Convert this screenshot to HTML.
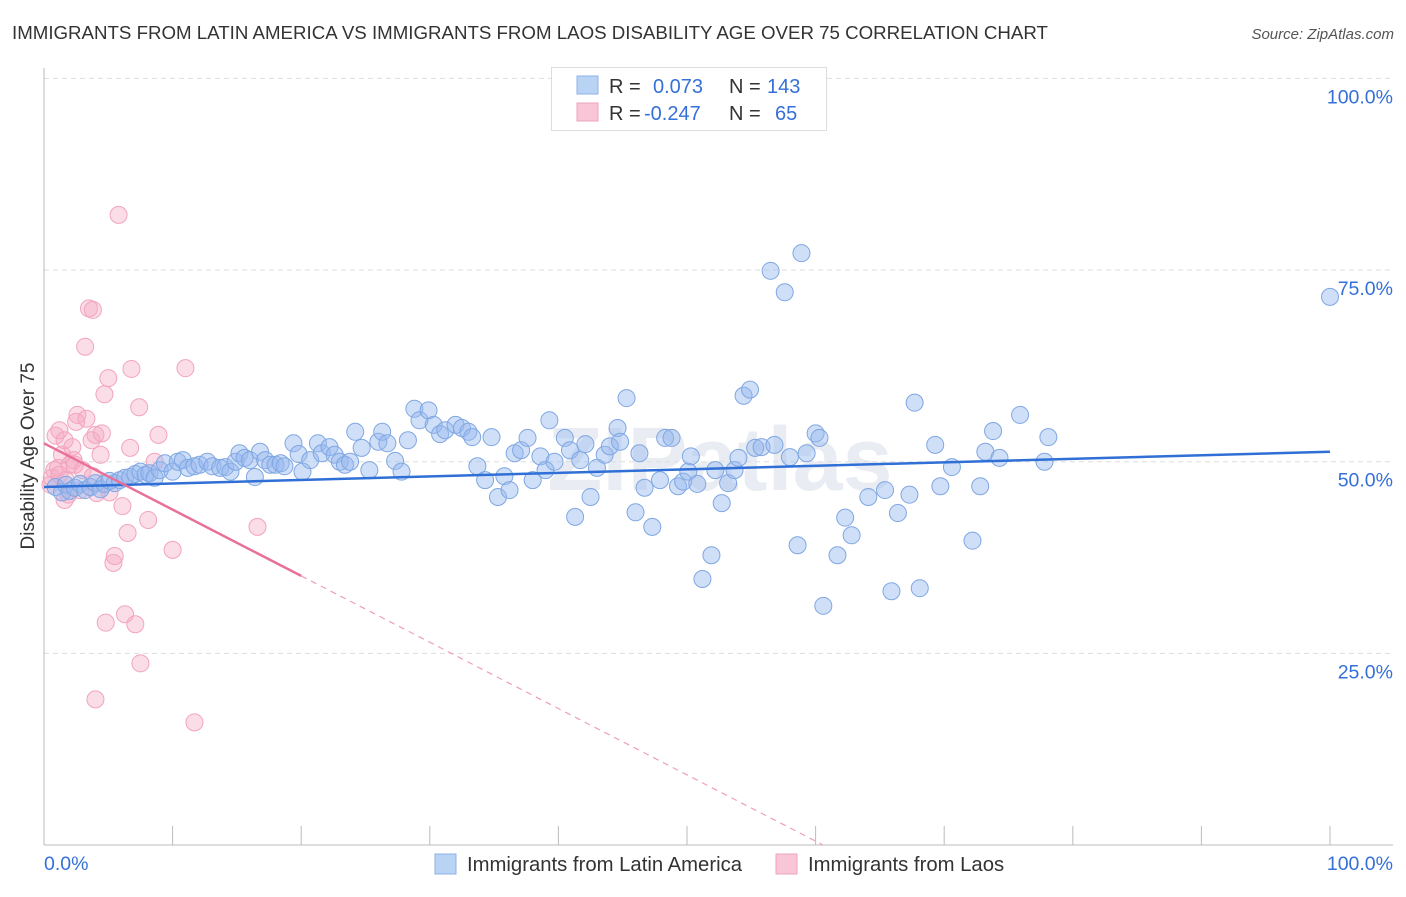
<!DOCTYPE html>
<html><head><meta charset="utf-8"><style>
body{margin:0;background:#fff;font-family:"Liberation Sans",sans-serif;}
svg text{font-family:"Liberation Sans",sans-serif;}
</style></head><body>
<svg id="chart" width="1406" height="892" viewBox="0 0 1406 892">
<text x="12" y="39" font-size="18.7" fill="#333">IMMIGRANTS FROM LATIN AMERICA VS IMMIGRANTS FROM LAOS DISABILITY AGE OVER 75 CORRELATION CHART</text>
<text x="1394" y="39" font-size="15" fill="#555" font-style="italic" text-anchor="end">Source: ZipAtlas.com</text>
<text x="720" y="490" font-size="90" fill="#e9edf3" text-anchor="middle" font-weight="bold">ZIPatlas</text>
<g id="grid"></g>
<g id="axes"></g>
<g id="pts"></g>
<g id="trends"></g>
<text transform="translate(34,456) rotate(-90)" font-size="19" fill="#333" text-anchor="middle">Disability Age Over 75</text>
<g>
<rect x="551.5" y="67.5" width="275" height="63" fill="#fff" stroke="#ddd"/>
<rect x="577" y="76" width="21" height="18" fill="#b9d3f5" stroke="#8fb2e8"/>
<rect x="577" y="103" width="21" height="18" fill="#f8c6d6" stroke="#f0a3bd"/>
<text x="609" y="93" font-size="20" fill="#333">R =</text>
<text x="653" y="93" font-size="20" fill="#3570d8">0.073</text>
<text x="729" y="93" font-size="20" fill="#333">N =</text>
<text x="767" y="93" font-size="20" fill="#3570d8">143</text>
<text x="609" y="120" font-size="20" fill="#333">R =</text>
<text x="644" y="120" font-size="20" fill="#3570d8">-0.247</text>
<text x="729" y="120" font-size="20" fill="#333">N =</text>
<text x="775" y="120" font-size="20" fill="#3570d8">65</text>
</g>
<g>
<rect x="435" y="854" width="21" height="20" fill="#b9d3f5" stroke="#8fb2e8"/>
<text x="467" y="871" font-size="20.3" fill="#333">Immigrants from Latin America</text>
<rect x="776" y="854" width="21" height="20" fill="#f8c6d6" stroke="#f0a3bd"/>
<text x="808" y="871" font-size="20.3" fill="#333">Immigrants from Laos</text>
</g>
</svg>
<script>
const blueX=[0.9,1.4,1.7,2.0,2.4,2.8,3.2,3.6,4.0,4.4,4.7,5.1,5.5,5.9,6.3,6.7,7.1,7.5,7.9,8.2,8.6,9.0,9.4,10.0,10.4,10.8,11.2,11.7,12.1,12.7,13.1,13.7,14.1,14.5,14.9,15.2,15.6,16.0,16.4,16.8,17.2,17.6,18.0,18.4,18.7,19.4,19.8,20.1,20.7,21.3,21.6,22.2,22.6,23.0,23.4,23.8,24.2,24.7,25.3,26.0,26.3,26.7,27.3,27.8,28.3,28.8,29.2,29.9,30.3,30.8,31.2,32.0,32.5,33.0,33.3,33.7,34.3,34.8,35.3,35.8,36.2,36.6,37.1,37.6,38.0,38.6,39.0,39.3,39.7,40.5,40.9,41.3,41.7,42.1,42.5,43.0,43.6,44.0,44.6,44.8,45.3,46.0,46.3,46.7,47.3,47.9,48.3,48.8,49.3,49.7,50.1,50.3,50.8,51.2,51.9,52.2,52.7,53.2,53.7,54.0,54.4,54.9,55.3,55.8,56.5,56.8,57.6,58.0,58.6,58.9,59.3,60.0,60.3,60.6,61.7,62.3,62.8,64.1,65.4,65.9,66.4,67.3,67.7,68.1,69.3,69.7,70.6,72.2,72.8,73.2,73.8,74.3,75.9,77.8,78.1,100];
const blueY=[46.7,46.0,47.0,46.2,46.6,47.1,46.3,46.7,47.2,46.4,47.1,47.5,47.2,47.6,47.9,48.0,48.4,48.7,48.3,48.5,47.9,48.9,49.8,48.7,50.0,50.2,49.2,49.4,49.6,50.0,49.4,49.2,49.3,48.7,50.0,51.1,50.5,50.2,48.0,51.3,50.2,49.6,49.6,49.8,49.4,52.4,51.0,48.7,50.2,52.4,51.1,51.9,50.9,50.0,49.6,50.0,53.9,51.8,48.9,52.6,53.9,52.4,50.1,48.7,52.8,56.9,55.4,56.7,54.8,53.6,54.1,54.8,54.4,53.9,53.2,49.4,47.6,53.2,45.4,48.1,46.3,51.1,51.5,53.1,47.6,50.7,48.9,55.4,50.0,53.1,51.5,42.8,50.2,52.3,45.4,49.2,50.9,52.0,54.4,52.6,58.3,43.4,51.1,46.6,41.5,47.6,53.1,53.1,46.8,47.4,48.7,50.7,47.1,34.7,37.8,48.9,44.6,47.2,48.9,50.5,58.6,59.4,51.8,51.9,74.9,52.2,72.1,50.6,39.1,77.2,51.1,53.7,53.1,31.2,37.8,42.7,40.4,45.4,46.3,33.1,43.3,45.7,57.7,33.5,52.2,46.8,49.3,39.7,46.8,51.3,54.0,50.5,56.1,50.0,53.2,71.5];
const pinkX=[0.5,0.6,0.8,0.9,1.1,1.2,1.4,1.6,1.7,1.9,2.0,2.2,2.3,2.5,2.6,2.8,3.0,3.2,3.3,3.5,3.7,3.8,4.0,4.1,4.4,4.5,4.7,4.8,5.0,5.1,5.4,5.5,5.8,6.1,6.3,6.5,6.7,6.8,7.1,7.4,7.5,8.1,8.6,8.9,10.0,11.0,11.7,16.6,4.0,1.2,2.4,1.6,3.8];
const pinkY=[47.0,47.9,48.9,53.4,49.2,54.1,50.9,52.8,47.6,45.7,49.6,51.9,50.2,55.2,56.1,46.3,48.9,65.0,55.6,70.0,52.8,48.1,53.5,45.9,50.9,53.7,58.8,29.0,60.9,46.0,36.8,37.7,82.2,44.2,30.1,40.7,51.8,62.1,28.8,57.1,23.7,42.4,50.0,53.5,38.5,62.2,16.0,41.5,19.0,48.3,49.6,45.0,69.8];
const blueTrend=[46.7,51.3];   // y at x=0 and x=100
const pinkTrend=[52.4,-0.865]; // intercept, slope
const yTicks=[25,50,75,100];
const xTicks=[0,10,20,30,40,50,60,70,80,90,100];
const NS='http://www.w3.org/2000/svg';
const sx=v=>44+v*12.86, sy=v=>845-v*7.666;
function mk(tag,attrs,parent){const e=document.createElementNS(NS,tag);for(const k in attrs)e.setAttribute(k,attrs[k]);document.getElementById(parent).appendChild(e);return e;}
yTicks.forEach(t=>{
 const l=mk('line',{x1:44,x2:1393,y1:sy(t),y2:sy(t),stroke:'#ddd','stroke-dasharray':'5,4'},'grid');
 
 
 const tx=mk('text',{x:1393,y:sy(t)+25,'font-size':19.5,fill:'#3570d8','text-anchor':'end'},'axes');
 tx.textContent=t.toFixed(1)+'%';
 
 
});
const xa=mk('line',{x1:44,x2:1393,y1:845,y2:845,stroke:'#bbb'},'axes');


const ya=mk('line',{x1:44,x2:44,y1:68,y2:845,stroke:'#bbb'},'axes');


xTicks.forEach(t=>{
 const l=mk('line',{x1:sx(t),x2:sx(t),y1:826,y2:845,stroke:'#bbb'},'axes');
 
 
});
[[0,'0.0%','start',44],[100,'100.0%','end',1393]].forEach(a=>{
 const tx=mk('text',{x:a[3],y:870,'font-size':19.5,fill:'#3570d8','text-anchor':a[2]},'axes');
 tx.textContent=a[1];
 
 
});
pinkX.forEach((x,i)=>{
 const c=mk('circle',{cx:sx(x),cy:sy(pinkY[i]),r:8.5,fill:'rgba(246,170,196,0.4)',stroke:'#f2a4be','stroke-width':1},'pts');
 
 
});
blueX.forEach((x,i)=>{
 const c=mk('circle',{cx:sx(x),cy:sy(blueY[i]),r:8.5,fill:'rgba(150,185,240,0.45)',stroke:'#7fa7e2','stroke-width':1},'pts');
 
 
});
const bt=mk('line',{x1:sx(0),y1:sy(blueTrend[0]),x2:sx(100),y2:sy(blueTrend[1]),stroke:'#2f6fd6','stroke-width':2.5},'trends');


const pe=20, pz=-pinkTrend[0]/pinkTrend[1];
const pt=mk('line',{x1:sx(0),y1:sy(pinkTrend[0]),x2:sx(pe),y2:sy(pinkTrend[0]+pinkTrend[1]*pe),stroke:'#e8709a','stroke-width':2.5},'trends');


const pd=mk('line',{x1:sx(pe),y1:sy(pinkTrend[0]+pinkTrend[1]*pe),x2:sx(pz),y2:sy(0),stroke:'#eda0ba','stroke-width':1.2,'stroke-dasharray':'6,5'},'trends');


</script>
</body></html>
